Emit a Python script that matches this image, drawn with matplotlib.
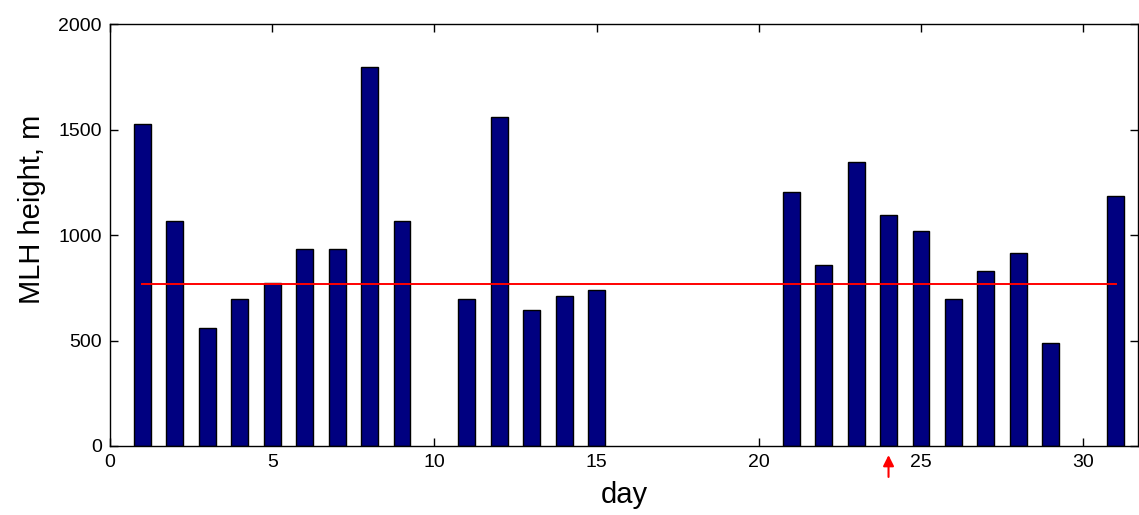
import matplotlib
matplotlib.use("Agg")
import matplotlib.pyplot as plt

days = [1, 2, 3, 4, 5, 6, 7, 8, 9, 11, 12, 13, 14, 15,
        21, 22, 23, 24, 25, 26, 27, 28, 29, 31]
mlh = [1525, 1068, 561, 697, 771, 934, 934, 1795, 1068, 697, 1559, 645, 712, 739,
       1204, 858, 1347, 1093, 1020, 697, 831, 916, 487, 1186]
mean_level = 770
mean_span = [1, 31]
arrow_day = 24
xticks = [0, 5, 10, 15, 20, 25, 30]
yticks = [0, 500, 1000, 1500, 2000]

plt.rcParams['font.family'] = ['Liberation Sans', 'DejaVu Sans']

fig = plt.figure(figsize=(11.39, 5.15), dpi=100)
ax = fig.add_axes([0.0966, 0.134, 0.9025, 0.819])

ax.bar(days, mlh, width=0.52, color='#000080', edgecolor='black', linewidth=1.0, zorder=2)
ax.plot(mean_span, [mean_level, mean_level], color='red', linewidth=1.4, zorder=3)

ax.set_xlim(0, 31.69)
ax.set_ylim(0, 2000)
ax.set_xticks(xticks)
ax.set_yticks(yticks)
ax.tick_params(direction='in', length=6, width=1, top=True, right=True,
               labelsize=14, pad=6)
for s in ax.spines.values():
    s.set_linewidth(1.0)

ax.set_xlabel('day', fontsize=21, labelpad=7)
ax.set_ylabel('MLH height, m', fontsize=21, labelpad=9)
ax.yaxis.label.set_y(0.56)

ax.annotate('', xy=(arrow_day, -30), xytext=(arrow_day, -160),
            xycoords='data', textcoords='data', annotation_clip=False,
            arrowprops=dict(arrowstyle='-|>', color='red', lw=1.5, mutation_scale=16))

fig.savefig('out.png', dpi=100)
